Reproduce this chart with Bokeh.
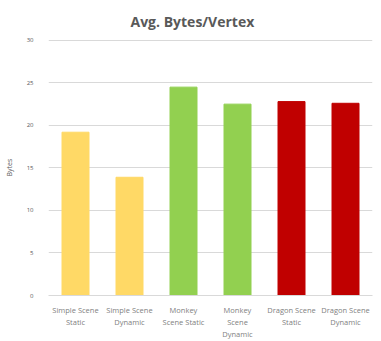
from bokeh.plotting import figure
from bokeh.models import FactorRange, Range1d, SingleIntervalTicker, ColumnDataSource
from bokeh.embed import file_html
from bokeh.resources import INLINE

categories = ["Simple Scene\nStatic", "Simple Scene\nDynamic", "Monkey\nScene Static",
              "Monkey\nScene\nDynamic", "Dragon Scene\nStatic", "Dragon Scene\nDynamic"]
values = [19.2, 13.9, 24.5, 22.5, 22.8, 22.6]
colors = ["#FFD966", "#FFD966", "#92D050", "#92D050", "#C00000", "#C00000"]

src = ColumnDataSource(dict(x=categories, top=values, color=colors))

p = figure(width=381, height=341, x_range=FactorRange(*categories, range_padding=0),
           y_range=Range1d(0, 30.1), output_backend="svg", toolbar_location=None,
           min_border_left=48, min_border_right=9, min_border_top=23, min_border_bottom=45,
           title="Avg. Bytes/Vertex")
p.vbar(x="x", top="top", width=0.5, color="color", source=src)

p.title.align = "left"
p.title.text_font = "Open Sans"
p.title.text_font_size = "14px"
p.title.text_color = "#595959"
p.title.text_font_style = "bold"
p.title.standoff = 18
p.title.offset = 82

p.outline_line_color = None
p.border_fill_color = "white"
p.xgrid.grid_line_color = None
p.ygrid.grid_line_color = "#D9D9D9"
p.ygrid.grid_line_width = 1

p.yaxis.ticker = SingleIntervalTicker(interval=5)
p.yaxis.axis_line_color = None
p.yaxis.major_tick_line_color = None
p.yaxis.minor_tick_line_color = None
p.yaxis.major_label_text_font_size = "6px"
p.yaxis.major_label_text_color = "#595959"
p.yaxis.major_label_text_font = "Open Sans"
p.yaxis.axis_label = "Bytes"
p.yaxis.axis_label_text_font_size = "7px"
p.yaxis.axis_label_text_font_style = "normal"
p.yaxis.axis_label_text_color = "#595959"
p.yaxis.axis_label_text_font = "Open Sans"
p.yaxis.major_label_standoff = 9
p.yaxis.axis_label_standoff = 10

p.xaxis.axis_line_color = "#D9D9D9"
p.xaxis.major_tick_line_color = None
p.xaxis.minor_tick_line_color = None
p.xaxis.major_label_text_font_size = "7.5px"
p.xaxis.major_label_text_color = "#7F7F7F"
p.xaxis.major_label_text_font = "Open Sans"
p.xaxis.major_label_standoff = 3

open("out.html", "w").write(file_html(p, INLINE))
